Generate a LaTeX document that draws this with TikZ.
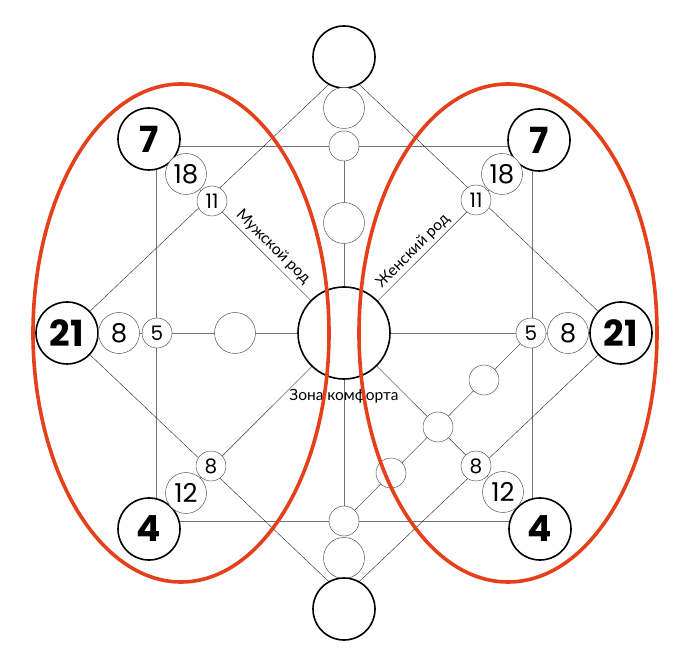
\documentclass[tikz,border=0pt]{standalone}
\usepackage{fontspec}
\setmainfont{Lato}
\newfontfamily\numfont{Poppins}
\usepackage{xcolor}
\usepackage{tikz}
\usetikzlibrary{backgrounds}
\definecolor{zonered}{HTML}{E5401A}

\begin{document}
\begin{tikzpicture}[x=1pt,y=-1pt,
big/.style={draw,circle,line width=1.6pt,fill=white,minimum size=62pt,inner sep=0pt,font=\numfont\fontsize{36}{36}\selectfont\bfseries},
mid/.style={draw=gray!70!black,circle,line width=.5pt,fill=white,minimum size=41pt,inner sep=0pt,font=\numfont\fontsize{26}{26}\selectfont},
sml/.style={draw=gray!70!black,circle,line width=.5pt,fill=white,minimum size=30pt,inner sep=0pt,font=\numfont\fontsize{20}{20}\selectfont},
grid/.style={draw=gray!90!black,line width=.7pt},
diag/.style={draw=black!80,line width=.45pt},
zone/.style={draw=zonered,line width=3.6pt},
lbl/.style={font=\fontsize{15.5}{15.5}\selectfont,inner sep=0pt}]
\useasboundingbox (0,0) rectangle (694,660);
\node[big,minimum size=92pt] (ctr) at (344,333) {};
\node[big] (top) at (344,57) {};
\node[mid] (topm) at (344,108) {};
\node[sml] (tops) at (344,146) {};
\node[mid] (vm) at (344,223) {};
\node[sml] (bots) at (344,521) {};
\node[mid] (botm) at (344,558) {};
\node[big] (bot) at (344,609) {};
\node[big] (l21) at (67,333) {21};
\node[mid] (l8) at (119,333) {8};
\node[sml] (l5) at (157,333) {5};
\node[mid] (lm) at (235,333) {};
\node[big] (r21) at (621,333) {21};
\node[mid] (r8) at (568,333) {8};
\node[sml] (r5) at (531,333) {5};
\node[big] (tl7) at (149,139) {7};
\node[mid] (tl18) at (186,174) {18};
\node[sml] (tl11) at (212,201) {11};
\node[big] (tr7) at (539,140) {7};
\node[mid] (tr18) at (502,174) {18};
\node[sml] (tr11) at (476,200) {11};
\node[big] (bl4) at (149,529) {4};
\node[mid] (bl12) at (186,493) {12};
\node[sml] (bl8) at (211,466) {8};
\node[big] (br4) at (540,529) {4};
\node[mid] (br12) at (503,492) {12};
\node[sml] (br8) at (476,466) {8};
\node[sml] (d1) at (484,380) {};
\node[sml] (d2) at (438,427) {};
\node[sml] (d3) at (391,473) {};
\coordinate (sqtl) at (156,146);\coordinate (sqtr) at (532,146);
\coordinate (sqbr) at (532,521);\coordinate (sqbl) at (156,521);
\coordinate (dt) at (344,70);\coordinate (db) at (344,596);
\begin{scope}[on background layer]
\draw[grid] (sqtl)--(sqtr)--(sqbr)--(sqbl)--cycle;
\draw[grid] (l21)--(r21);\draw[grid] (tops)--(bots);
\draw[diag] (dt)--(r21.center)--(db)--(l21.center)--cycle;
\draw[diag] (tl7)--(br4);\draw[diag] (tr7)--(bl4);
\draw[diag] (r5)--(bots);
\end{scope}
\node[lbl,rotate=-45] (male) at (273,247) {Мужской род};
\node[lbl,rotate=45] (female) at (413,251) {Женский род};
\node[lbl] (comfort) at (344,396) {Зона комфорта};
\draw[zone] (181,333) ellipse [x radius=148pt,y radius=249pt];
\draw[zone] (508,333) ellipse [x radius=149pt,y radius=249pt];
\end{tikzpicture}
\end{document}
